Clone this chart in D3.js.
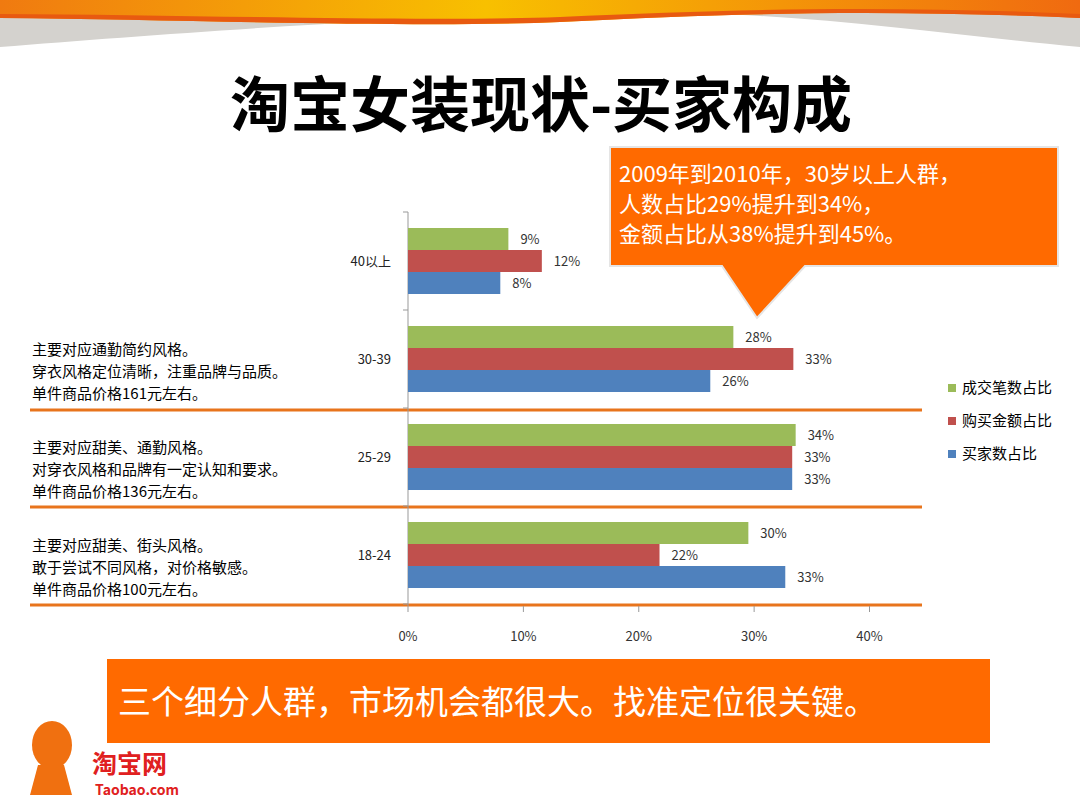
<!DOCTYPE html>
<html><head><meta charset="utf-8">
<script src="https://cdn.jsdelivr.net/npm/d3@7"></script>
<style>body{margin:0;background:#fff}svg{display:block;font-family:"Noto Sans CJK SC",sans-serif}</style>
</head><body><svg width="1080" height="810"></svg>
<script>
// 数据
const categories = ['40以上', '30-39', '25-29', '18-24'];
const seriesNames = ['成交笔数占比', '购买金额占比', '买家数占比'];
const colors = ['#9BBB59', '#C0504D', '#4F81BD'];
const dealCount = [8.7, 28.2, 33.6, 29.5];
const amount = [11.6, 33.4, 33.3, 21.8];
const buyers = [8.0, 26.2, 33.3, 32.7];
const dealLabels = ['9%', '28%', '34%', '30%'];
const amountLabels = ['12%', '33%', '33%', '22%'];
const buyerLabels = ['8%', '26%', '33%', '33%'];
const xTicks = [0, 10, 20, 30, 40];
const notes = [
  [],
  ['主要对应通勤简约风格。', '穿衣风格定位清晰，注重品牌与品质。', '单件商品价格161元左右。'],
  ['主要对应甜美、通勤风格。', '对穿衣风格和品牌有一定认知和要求。', '单件商品价格136元左右。'],
  ['主要对应甜美、街头风格。', '敢于尝试不同风格，对价格敏感。', '单件商品价格100元左右。']
];

const svg = d3.select('svg');

// 顶部装饰
const defs = svg.append('defs');
const grad = defs.append('linearGradient').attr('id', 'band');
grad.append('stop').attr('offset', '0%').attr('stop-color', '#F07A10');
grad.append('stop').attr('offset', '45%').attr('stop-color', '#F8C000');
grad.append('stop').attr('offset', '100%').attr('stop-color', '#F06A10');
svg.append('path').attr('d', 'M0,0 H1080 V47 C900,30 760,5 540,14 C350,20 150,35 0,47 Z').attr('fill', '#D4D2CE');
svg.append('path').attr('d', 'M0,0 H1080 V18 C900,10 750,12 560,22 C420,28 200,20 0,18 Z').attr('fill', 'url(#band)');
svg.append('path').attr('d', 'M0,18 C200,20 420,28 560,22 C750,12 900,10 1080,18 V14 C900,6 750,8 560,17 C420,22 200,15 0,14Z').attr('fill', '#E85A10');

svg.append('text').attr('x', 541).attr('y', 127).attr('text-anchor', 'middle')
  .attr('font-size', 60).attr('font-weight', 'bold').text('淘宝女装现状-买家构成');

// 图表
const x = d3.scaleLinear().domain([0, 40]).range([408, 869.5]);
const y = d3.scaleBand().domain(categories).range([212, 604]).paddingInner(0).paddingOuter(0);
const inner = d3.scaleBand().domain([0, 1, 2]).range([0, y.bandwidth()]).paddingOuter(0.727).paddingInner(0);

// 分隔线
[410, 507, 605].forEach(yy => svg.append('line').attr('x1', 30).attr('x2', 922)
  .attr('y1', yy).attr('y2', yy).attr('stroke', '#E8741C').attr('stroke-width', 3));

svg.append('line').attr('x1', 408).attr('x2', 408).attr('y1', 212).attr('y2', 606).attr('stroke', '#999');
categories.concat(['end']).forEach((c, i) => {
  const yy = 212 + i * y.bandwidth();
  svg.append('line').attr('x1', 403).attr('x2', 408).attr('y1', yy).attr('y2', yy).attr('stroke', '#999');
});
svg.append('g').selectAll('line').data(xTicks).join('line')
  .attr('x1', d => x(d)).attr('x2', d => x(d)).attr('y1', 606).attr('y2', 612).attr('stroke', '#999');
svg.append('g').selectAll('text').data(xTicks).join('text')
  .attr('x', d => x(d)).attr('y', 641).attr('text-anchor', 'middle').attr('font-size', 13)
  .attr('fill', '#333').text(d => d + '%');

const series = [dealCount, amount, buyers];
const labels = [dealLabels, amountLabels, buyerLabels];
series.forEach((vals, s) => {
  const g = svg.append('g');
  g.selectAll('rect').data(categories).join('rect')
    .attr('x', x(0)).attr('y', (c) => y(c) + inner(s))
    .attr('width', (c, i) => x(vals[i]) - x(0)).attr('height', inner.bandwidth())
    .attr('fill', colors[s]);
  g.selectAll('text').data(categories).join('text')
    .attr('x', (c, i) => x(vals[i]) + 12).attr('y', c => y(c) + inner(s) + inner.bandwidth() / 2 + 5)
    .attr('font-size', 13).attr('fill', '#333').text((c, i) => labels[s][i]);
});

svg.append('g').selectAll('text').data(categories).join('text')
  .attr('x', 391).attr('y', c => y(c) + y.bandwidth() / 2 + 5).attr('text-anchor', 'end')
  .attr('font-size', 13).attr('fill', '#222').text(d => d);

notes.forEach((lines, i) => {
  lines.forEach((t, j) => svg.append('text').attr('x', 32)
    .attr('y', y(categories[i]) + 45 + j * 22).attr('font-size', 15).text(t));
});

// 图例
seriesNames.forEach((n, i) => {
  svg.append('rect').attr('x', 948).attr('y', 384 + i * 33).attr('width', 8).attr('height', 8).attr('fill', colors[i]);
  svg.append('text').attr('x', 962).attr('y', 393 + i * 33).attr('font-size', 15).text(n);
});

// 标注
svg.append('path').attr('d', 'M610,147 H1058 V266 H805 L757,318 L722,266 H610 Z')
  .attr('fill', '#FF6A00').attr('stroke', '#E5E5E5').attr('stroke-width', 2);
['2009年到2010年，30岁以上人群，', '人数占比29%提升到34%，', '金额占比从38%提升到45%。'].forEach((t, i) =>
  svg.append('text').attr('x', 619).attr('y', 182 + i * 30).attr('font-size', 22).attr('fill', '#fff').text(t));

svg.append('rect').attr('x', 107).attr('y', 659).attr('width', 883).attr('height', 84).attr('fill', '#FF6A00');
svg.append('text').attr('x', 118).attr('y', 714).attr('font-size', 33).attr('fill', '#fff')
  .text('三个细分人群，市场机会都很大。找准定位很关键。');

// logo
svg.append('ellipse').attr('cx', 52).attr('cy', 745).attr('rx', 20).attr('ry', 24).attr('fill', '#F07010');
svg.append('path').attr('d', 'M38,765 L30,795 H72 L64,765 Z').attr('fill', '#F07010');
svg.append('text').attr('x', 92).attr('y', 773).attr('font-size', 25).attr('font-weight', 'bold').attr('fill', '#E02020').text('淘宝网');
svg.append('text').attr('x', 95).attr('y', 795).attr('font-size', 14).attr('font-weight', 'bold').attr('fill', '#E02020').text('Taobao.com');
</script></body></html>
